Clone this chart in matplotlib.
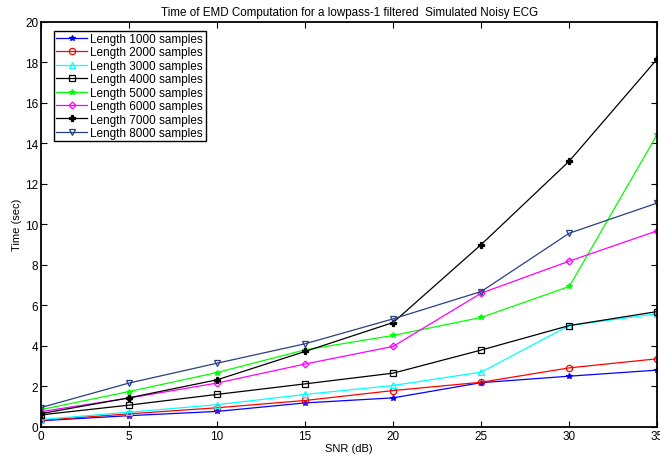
import matplotlib.pyplot as plt

snr = [0, 5, 10, 15, 20, 25, 30, 35]

len_1000 = [0.30, 0.55, 0.76, 1.18, 1.43, 2.18, 2.50, 2.80]
len_2000 = [0.32, 0.64, 0.94, 1.30, 1.79, 2.20, 2.91, 3.36]
len_3000 = [0.36, 0.72, 1.09, 1.60, 2.04, 2.70, 5.00, 5.58]
len_4000 = [0.59, 1.07, 1.60, 2.12, 2.65, 3.79, 5.00, 5.69]
len_5000 = [0.85, 1.74, 2.68, 3.80, 4.51, 5.40, 6.93, 14.45]
len_6000 = [0.75, 1.42, 2.16, 3.10, 3.97, 6.60, 8.18, 9.68]
len_7000 = [0.65, 1.43, 2.32, 3.72, 5.15, 9.00, 13.12, 18.17]
len_8000 = [0.95, 2.16, 3.14, 4.10, 5.33, 6.68, 9.56, 11.05]

labels = ["Length %d samples" % n for n in range(1000, 9000, 1000)]

styles = [
    ('#0000ff', '*'),
    ('#ff0000', 'o'),
    ('#00ffff', '^'),
    ('#000000', 's'),
    ('#00ff00', '*'),
    ('#ff00ff', 'D'),
    ('#000000', 'P'),
    ('#2a3f82', 'v'),
]

series = [len_1000, len_2000, len_3000, len_4000, len_5000, len_6000, len_7000, len_8000]

plt.rcParams['font.family'] = ['Liberation Sans', 'DejaVu Sans']

fig = plt.figure(figsize=(6.6, 4.64), dpi=100)
ax = fig.add_axes([0.062, 0.078, 0.934, 0.873])

for vals, lab, (col, mk) in zip(series, labels, styles):
    ms = 4 if mk in ('*', 'P') else 4.5
    if mk == 'D':
        ms = 3.5
    ax.plot(snr, vals, color=col, marker=mk, markersize=ms, linewidth=0.9,
            markerfacecolor='none' if mk in ('o', '^', 's', 'D', 'v') else col,
            markeredgewidth=0.9, label=lab)

ax.set_xlim(0, 35)
ax.set_ylim(0, 20)
ax.set_xticks(snr)
ax.set_yticks(range(0, 21, 2))
ax.tick_params(direction='in', top=True, right=True, length=4, width=0.8, labelsize=8.5, pad=2)
for sp in ax.spines.values():
    sp.set_linewidth(1.3)

ax.set_title('Time of EMD Computation for a lowpass-1 filtered  Simulated Noisy ECG', fontsize=8.4, pad=5)
ax.set_xlabel('SNR (dB)', fontsize=8, labelpad=1)
ax.set_ylabel('Time (sec)', fontsize=8, labelpad=2)

leg = ax.legend(loc='upper left', bbox_to_anchor=(0.021, 0.978), fontsize=8.5, frameon=True,
                fancybox=False, edgecolor='black', framealpha=1, borderpad=0.2,
                labelspacing=0.12, handlelength=2.6, handletextpad=0.3, borderaxespad=0)
leg.get_frame().set_linewidth(1.0)

fig.savefig('out.png', dpi=100)
